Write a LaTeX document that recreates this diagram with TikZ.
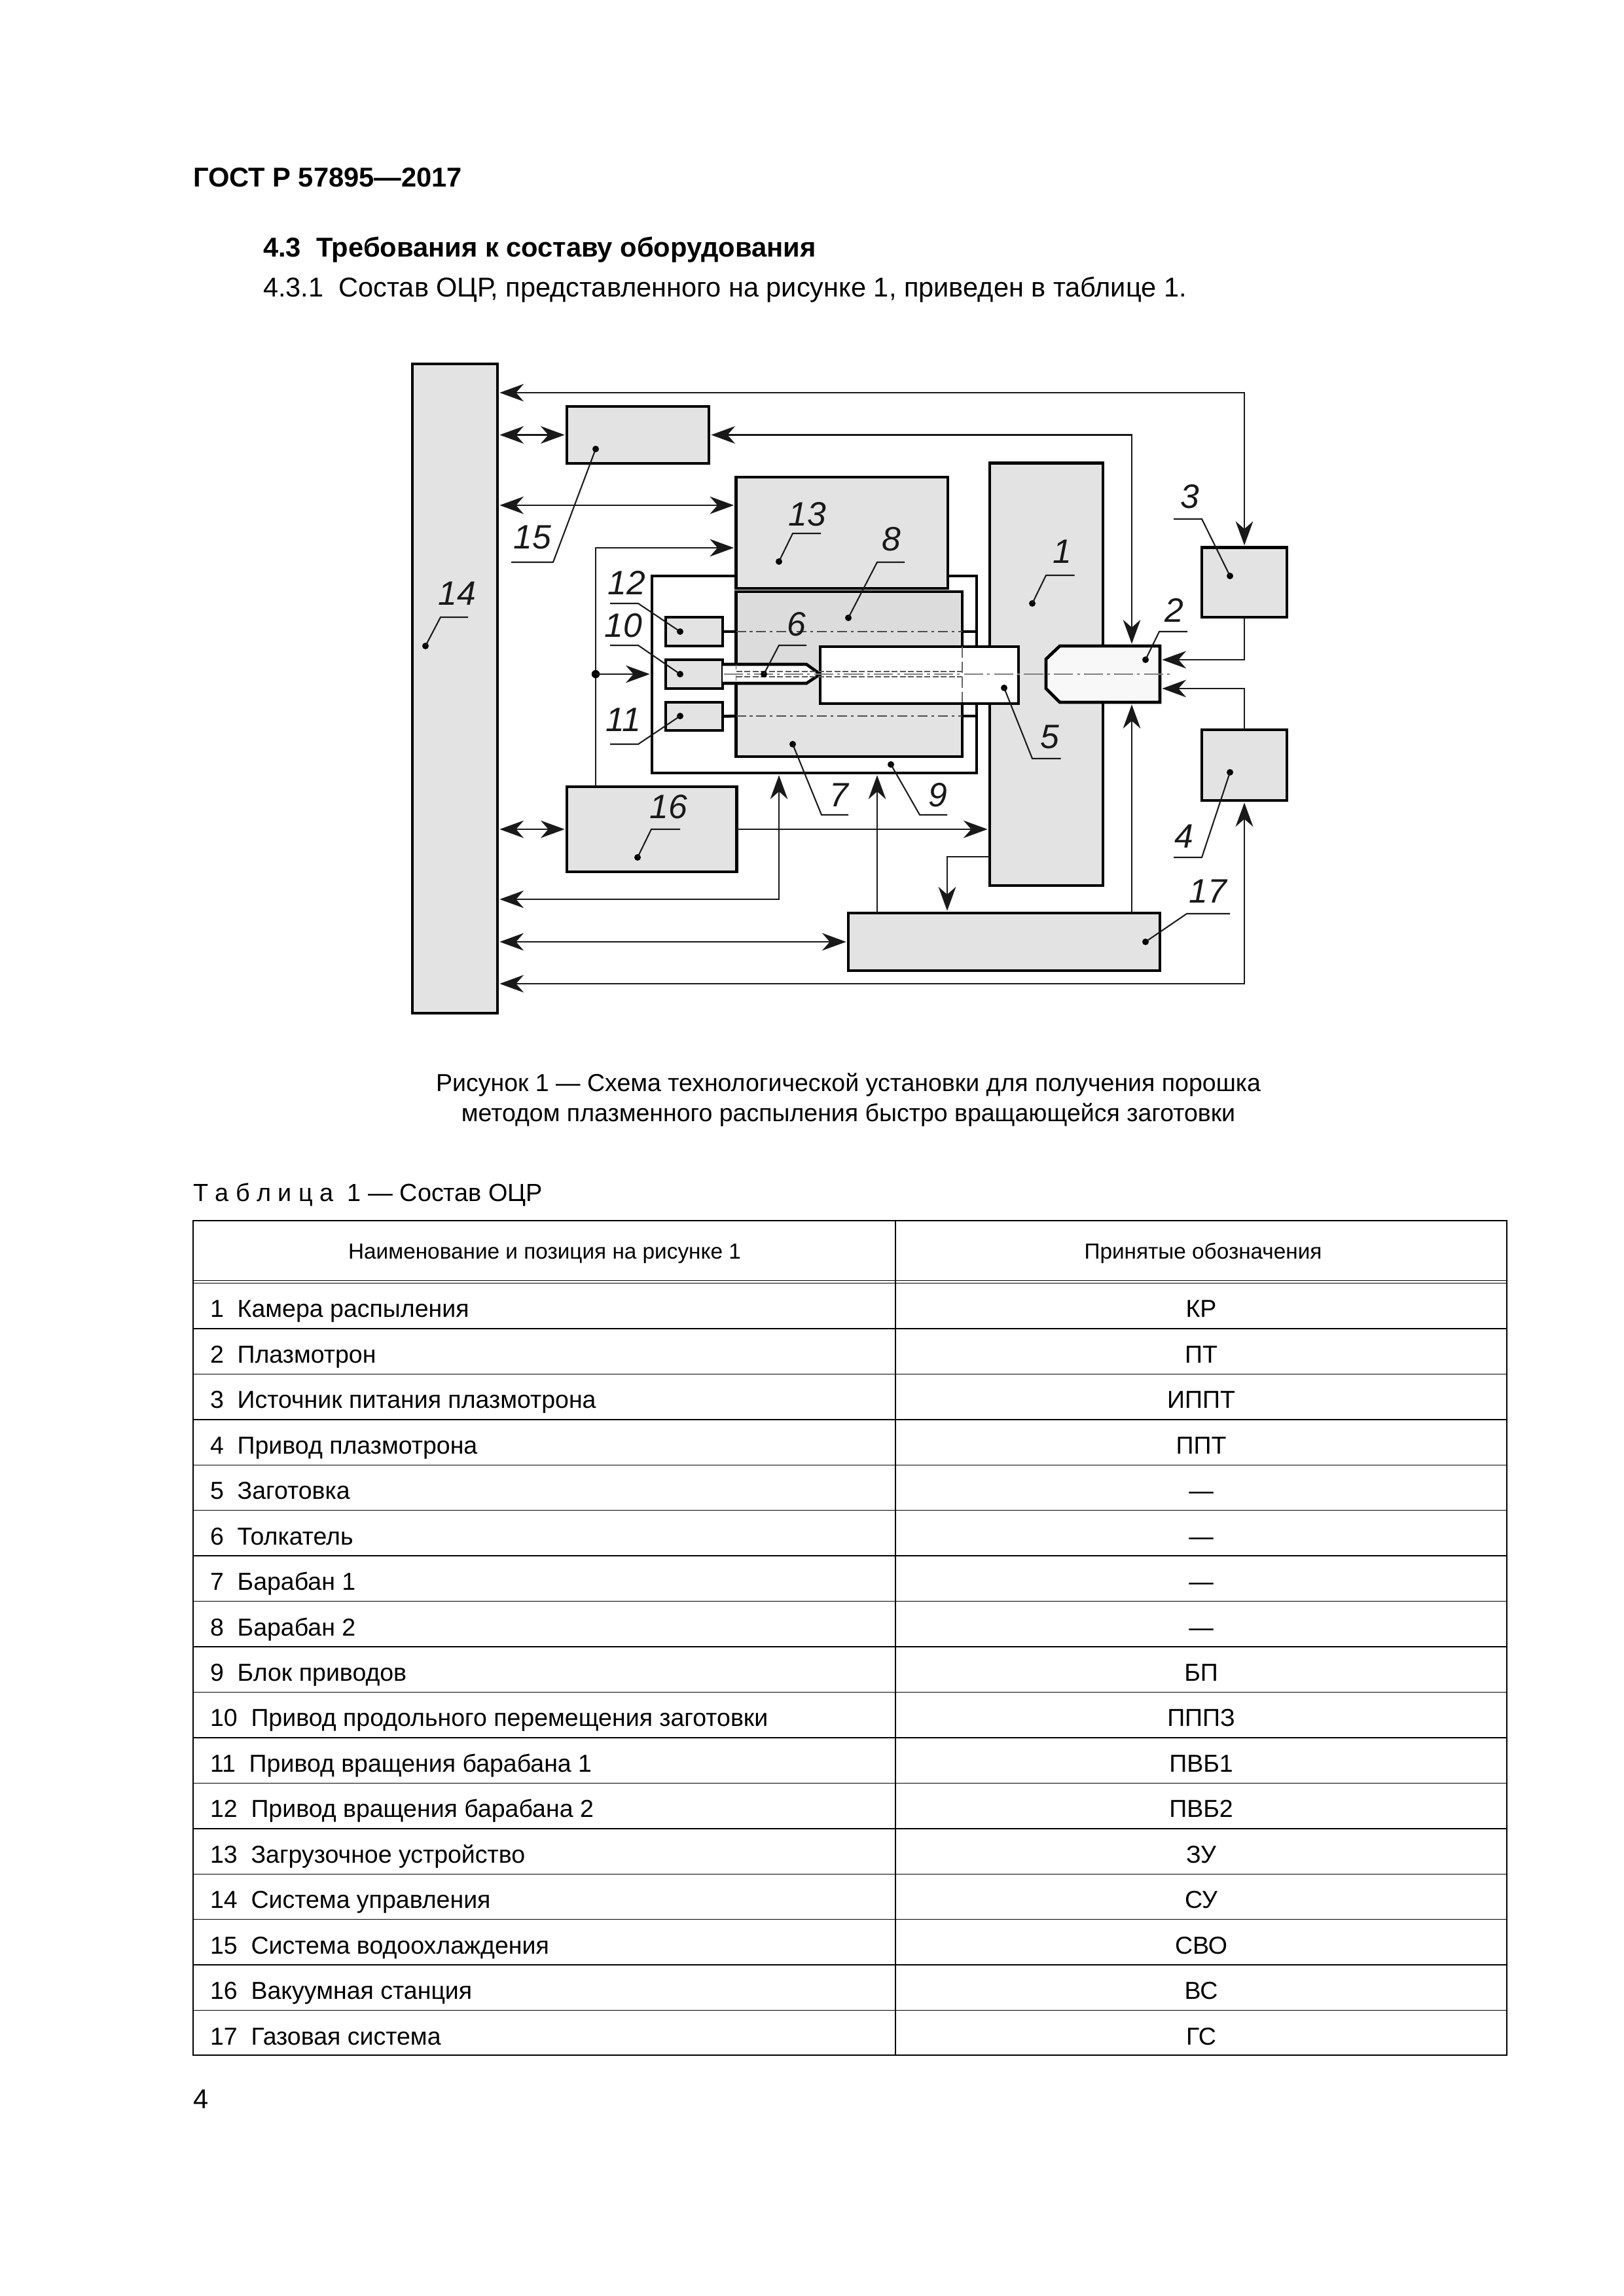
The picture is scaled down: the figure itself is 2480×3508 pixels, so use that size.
\documentclass[tikz,border=0pt]{standalone}
\usepackage{fontspec}
\setmainfont{Liberation Sans}
\usetikzlibrary{arrows.meta,calc}
\newcommand{\mybox}[6][]{%
  \pgfmathsetmacro\mycx{(#3+#5)/2}\pgfmathsetmacro\mycy{(#4+#6)/2}%
  \pgfmathsetmacro\myw{(#5-#3)*0.24}\pgfmathsetmacro\myh{(#6-#4)*0.24}%
  \node[unit,#1,minimum width=\myw pt,minimum height=\myh pt] (#2) at (\mycx,\mycy) {};}
\newcommand{\mylead}[5]{%
  \node[dotn] (d#1) at (#2) {};
  \coordinate (k#1) at (#3);
  \coordinate (e#1) at (#4);
  \draw[leader] (d#1.center) -- (k#1) -- (e#1);
  \node[lab] (l#1) at (#5) {#1};}
\tikzset{
  unit/.style={draw=black,fill=boxgray,line width=1.15pt,inner sep=0pt,outer sep=0pt,rectangle},
  conn/.style={line width=0.7pt,draw=black!90,line join=miter},
  tipto/.style={conn,-{Stealth[length=8.8pt,width=6.4pt,inset=2.8pt]},shorten >=0.8pt},
  tipbi/.style={conn,{Stealth[length=8.8pt,width=6.4pt,inset=2.8pt]}-{Stealth[length=8.8pt,width=6.4pt,inset=2.8pt]},shorten >=0.8pt,shorten <=0.8pt},
  leader/.style={line width=0.5pt,draw=black!90},
  dotn/.style={circle,fill=black,inner sep=0pt,minimum size=2.4pt,outer sep=0pt},
  lab/.style={font=\fontsize{12.4}{14}\selectfont\itshape,inner sep=0pt,outer sep=0pt,text=black!90},
  txt/.style={inner sep=0pt,outer sep=0pt,anchor=base west},
  ctxt/.style={inner sep=0pt,outer sep=0pt,anchor=base},
  body/.style={font=\fontsize{9.97}{12}\selectfont},
  capf/.style={font=\fontsize{9}{11}\selectfont},
  rowf/.style={font=\fontsize{9}{11}\selectfont},
  headf/.style={font=\fontsize{8}{10}\selectfont},
  axisl/.style={line width=0.45pt,draw=black!50,dash pattern=on 7pt off 1.5pt on 1pt off 1.5pt},
  shaftl/.style={line width=0.5pt,draw=black!70,dash pattern=on 3.6pt off 1.4pt on 1pt off 1.4pt},
  rodl/.style={line width=0.45pt,draw=black!65,dash pattern=on 2.2pt off 0.8pt},
  tline/.style={line width=0.35pt,draw=black}
}
\definecolor{boxgray}{HTML}{E3E3E3}
\definecolor{boxdark}{HTML}{DCDCDC}
\definecolor{plasma}{HTML}{F8F8F8}
\begin{document}
\begin{tikzpicture}[x=0.24pt,y=-0.24pt]
\useasboundingbox (0,0) rectangle (2480,3508);
\fill[white] (0,0) rectangle (2480,3508);
% page text
\node[txt,font=\fontsize{10}{12}\selectfont\bfseries] (gost) at (295,286) {ГОСТ Р 57895—2017};
\node[txt,font=\fontsize{10}{12}\selectfont\bfseries] (h43) at (402,393) {4.3\ \ Требования к составу оборудования};
\node[txt,body] (h431) at (402,454) {4.3.1\ \ Состав ОЦР, представленного на рисунке 1, приведен в таблице 1.};
\node[ctxt,capf] (cap1) at (1296,1667) {Рисунок 1 — Схема технологической установки для получения порошка};
\node[ctxt,capf] (cap2) at (1296,1713) {методом плазменного распыления быстро вращающейся заготовки};
\node[txt,font=\fontsize{9.08}{11}\selectfont] (ttl) at (295,1835) {Т а б л и ц а\ \ 1 — Состав ОЦР};
\node[txt,body] (pg) at (295,3221) {4};
% table
\draw[tline] (295,1865) rectangle (2302,3140);
\draw[tline] (1368,1865) -- (1368,3140);
\draw[tline] (295,1956.5) -- (2302,1956.5);
\draw[tline] (295,1960.5) -- (2302,1960.5);
\foreach \i in {1,...,16}{\pgfmathsetmacro\ry{1960.5+69.44*\i}\draw[tline] (295,\ry) -- (2302,\ry);}
\node[ctxt,headf] (th1) at (832,1923) {Наименование и позиция на рисунке 1};
\node[ctxt,headf] (th2) at (1838,1923) {Принятые обозначения};
\foreach \i/\t/\a in {
 1/Камера распыления/КР,
 2/Плазмотрон/ПТ,
 3/Источник питания плазмотрона/ИППТ,
 4/Привод плазмотрона/ППТ,
 5/Заготовка/—,
 6/Толкатель/—,
 7/Барабан 1/—,
 8/Барабан 2/—,
 9/Блок приводов/БП,
 10/Привод продольного перемещения заготовки/ПППЗ,
 11/Привод вращения барабана 1/ПВБ1,
 12/Привод вращения барабана 2/ПВБ2,
 13/Загрузочное устройство/ЗУ,
 14/Система управления/СУ,
 15/Система водоохлаждения/СВО,
 16/Вакуумная станция/ВС,
 17/Газовая система/ГС}{
  \pgfmathsetmacro\ry{1960.5+69.44*\i-17}
  \node[txt,rowf] (rn\i) at (321,\ry) {\i\ \ \t};
  \node[ctxt,rowf] (ra\i) at (1835,\ry) {\a};
}
% diagram: rear frame 9 and shafts
\mybox[fill=white,line width=0.95pt]{b9}{996}{880}{1492}{1181}
\mybox{b14}{630}{556}{760}{1548}
\mybox{b15}{866}{621}{1083}{708}
\mybox{b12}{1017}{943}{1104}{987}
\mybox{b10}{1017}{1008}{1104}{1052}
\mybox{b11}{1017}{1073}{1104}{1116}
\mybox{b16}{866}{1202}{1125.5}{1332}
\mybox{b17}{1296}{1395}{1772}{1483}
\mybox{b3}{1836}{836.5}{1966}{943}
\mybox{b4}{1836}{1115}{1966}{1223}
\mybox{b1}{1512}{707.5}{1685}{1353}
\mybox{b13}{1124.5}{729}{1448}{899}
\mybox{b8}{1124.5}{904}{1470}{1156}
\fill[boxdark] (1128,908) rectangle (1466,1030);
% shafts of the drives 12 and 11
\coordinate (s12a) at (1124.5,965);
\coordinate (s12b) at (1470,965);
\coordinate (s11a) at (1124.5,1094);
\coordinate (s11b) at (1470,1094);
\draw[line width=1.1pt] (b12.east) -- (s12a);
\draw[line width=1.1pt] (b11.east) -- (s11a);
\draw[shaftl] (s12a) -- (s12b);
\draw[shaftl] (s11a) -- (s11b);
\draw[line width=1.1pt] (s12b) -- (s12b -| b9.east);
\draw[line width=1.1pt] (s11b) -- (s11b -| b9.east);
% workpiece 5
\mybox[fill=white]{b5}{1253}{988}{1556}{1075}
% pusher 6
\draw[fill=white,line width=1.1pt,line join=miter] (1104,1015) -- (1232,1015) -- (1253,1030) -- (1232,1044) -- (1104,1044);
\draw[line width=0.4pt,draw=black!60,dash pattern=on 2pt off 2pt] (1124.5,1015) -- (1124.5,1044);
\draw[rodl] (1124.5,1026) -- (1470,1026);
\draw[rodl] (1124.5,1034) -- (1470,1034);
\draw[line width=0.4pt,draw=black!60,dash pattern=on 4pt off 1.5pt] (1470,988) -- (1470,1075);
% plasmatron 2
\coordinate (p2t) at (1729,987);
\coordinate (p2b) at (1729,1073);
\coordinate (p2e) at (1772,1030);
\draw[fill=plasma,line width=1.15pt,line join=miter] (1619,987) -- (1772,987) -- (1772,1073) -- (1619,1073) -- (1598,1052) -- (1598,1007) -- cycle;
\coordinate (ax1) at (1106,1030);
\coordinate (ax2) at (1791,1030);
\draw[axisl] (ax1) -- (ax2);
% connectors
\coordinate (a1) at (1901,600);
\coordinate (a2) at (1729,664.5);
\coordinate (a3) at (1124.5,772);
\coordinate (a4) at (910,837);
\coordinate (a5) at (1190,1374);
\coordinate (a6) at (1340,1395);
\coordinate (a7) at (1901,1503);
\coordinate (a8) at (1447,1309);
\coordinate (a9) at (1901,1008);
\coordinate (a10) at (1901,1052);
\draw[tipbi] (b14.east |- a1) -- (a1) -- (b3.north);
\draw[tipbi] (b14.east |- b15.west) -- (b15.west);
\draw[tipbi] (b15.east) -- (a2) -- (p2t);
\draw[tipbi] (b14.east |- a3) -- (a3);
\draw[tipto] (a4 |- b16.north) -- (a4) -- (a4 -| b13.west);
\node[dotn,minimum size=3pt] (j1) at (910,1030) {};
\draw[tipto] (j1.center) -- (j1 -| b9.west);
\draw[tipbi] (b14.east |- b16.west) -- (b16.west);
\draw[tipto] (b16.east) -- (b16.east -| b1.west);
\draw[tipbi] (b14.east |- a5) -- (a5) -- (a5 |- b9.south);
\draw[tipto] (a6 |- b17.north) -- (a6 |- b9.south);
\draw[tipbi] (b14.east |- b17.west) -- (b17.west);
\draw[tipbi] (b14.east |- a7) -- (a7) -- (b4.south);
\draw[tipto] (b1.west |- a8) -- (a8) -- (a8 |- b17.north);
\draw[tipto] (a2 |- b17.north) -- (p2b);
\draw[tipto] (b3.south) -- (a9) -- (a9 -| p2e);
\draw[tipto] (b4.north) -- (a10) -- (a10 -| p2e);
% labels with leaders
\mylead{14}{650,987}{673,943}{715,943}{698,907}
\mylead{15}{910,686}{845,859}{781,859}{813,821}
\mylead{13}{1190,858}{1211,815}{1254,815}{1233,786}
\mylead{8}{1296,944}{1340,859}{1382,859}{1362,824}
\mylead{12}{1039,965}{975,922}{932,922}{957,890}
\mylead{10}{1039,1030}{975,986}{932,986}{952,955.5}
\mylead{6}{1167,1030}{1190,986}{1232,986}{1217,954}
\mylead{11}{1039,1094}{975,1137}{932,1137}{952,1100}
\mylead{7}{1211,1137}{1255,1245}{1296,1245}{1282,1215}
\mylead{9}{1361,1168}{1405,1245}{1447,1245}{1433,1215}
\mylead{5}{1534,1051}{1577,1159}{1620.5,1159}{1604,1126}
\mylead{16}{974,1310}{995,1267}{1039,1267}{1021,1233}
\mylead{1}{1577,922}{1598,879}{1641.5,879}{1623,843}
\mylead{2}{1750,1008}{1771,965}{1814,965}{1794,932.5}
\mylead{3}{1879,880}{1836,793}{1793,793}{1818,759}
\mylead{4}{1879,1180}{1836,1310}{1793,1310}{1809,1278}
\mylead{17}{1750,1439}{1813,1396}{1879,1396}{1845,1362}
\end{tikzpicture}
\end{document}
